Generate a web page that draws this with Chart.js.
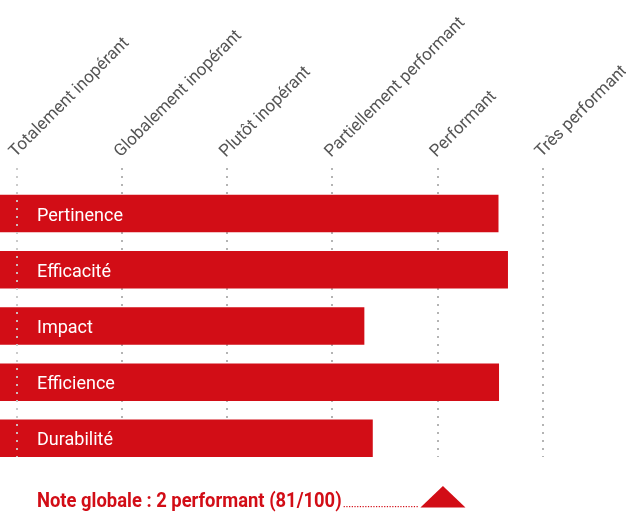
<!DOCTYPE html>
<html>
<head>
<meta charset="utf-8">
<script src="https://cdn.jsdelivr.net/npm/chart.js@4.4.0/dist/chart.umd.min.js"></script>
<style>
  html, body { margin: 0; padding: 0; background: #fff; }
  #wrap { width: 626px; height: 513px; }
</style>
</head>
<body>
<div id="wrap"><canvas id="chart"></canvas></div>
<script>
// grading levels, one every 20 points
const levels = ["Totalement inopérant", "Globalement inopérant", "Plutôt inopérant", "Partiellement performant", "Performant", "Très performant"];
const levelValues = [0, 20, 40, 60, 80, 100];
const criteria = ["Pertinence", "Efficacité", "Impact", "Efficience", "Durabilité"];
const scores = [91.5, 93.3, 66, 91.6, 67.6];
const overallScore = 81;
const overallLabel = "Note globale : 2 performant (81/100)";

const RED = "#d20d16";
const FONT = "Roboto, 'DejaVu Sans', sans-serif";
const X_MIN = -3.2, X_MAX = 115.8;

const overlay = {
  id: "overlay",
  afterDatasetsDraw(chart) {
    const ctx = chart.ctx;
    const xs = chart.scales.x;
    const area = chart.chartArea;
    ctx.save();

    // first level line stays visible over the bars
    const x0 = Math.round(xs.getPixelForValue(levelValues[0]));
    ctx.strokeStyle = "rgba(205,205,205,0.9)";
    ctx.lineWidth = 2;
    ctx.setLineDash([2, 6]);
    ctx.beginPath();
    ctx.moveTo(x0, area.top);
    ctx.lineTo(x0, area.bottom);
    ctx.stroke();
    ctx.setLineDash([]);

    // criterion names inside the bars
    ctx.fillStyle = "#fff";
    ctx.font = "18px " + FONT;
    ctx.textBaseline = "middle";
    chart.getDatasetMeta(0).data.forEach((bar, i) => {
      ctx.fillText(criteria[i], 37, bar.y + 2.5);
    });

    // overall score: label (narrowed), dotted leader, marker
    const base = 507;
    const squeeze = 0.92;
    ctx.fillStyle = RED;
    ctx.font = "bold 20px " + FONT;
    ctx.textBaseline = "alphabetic";
    const textEnd = 37 + ctx.measureText(overallLabel).width * squeeze;
    ctx.save();
    ctx.translate(37, base);
    ctx.scale(squeeze, 1);
    ctx.fillText(overallLabel, 0, 0);
    ctx.restore();
    const cx = xs.getPixelForValue(overallScore);
    for (let px = textEnd + 2; px < cx - 24; px += 2.7) {
      ctx.fillRect(px, base - 1, 1.2, 1.2);
    }
    ctx.beginPath();
    ctx.moveTo(cx, 486);
    ctx.lineTo(cx + 22.5, base + 0.5);
    ctx.lineTo(cx - 22.5, base + 0.5);
    ctx.closePath();
    ctx.fill();

    ctx.restore();
  }
};

new Chart(document.getElementById("chart"), {
  type: "bar",
  data: {
    datasets: [{
      data: scores.map((s, i) => ({ x: s, y: i })),
      backgroundColor: RED,
      base: X_MIN,
      barThickness: 37
    }]
  },
  options: {
    indexAxis: "y",
    responsive: true,
    maintainAspectRatio: false,
    animation: false,
    layout: { padding: { top: 0, right: 0, bottom: 56, left: 0 } },
    plugins: { legend: { display: false }, tooltip: { enabled: false } },
    scales: {
      x: {
        type: "linear",
        position: "top",
        min: X_MIN,
        max: X_MAX,
        afterBuildTicks: s => { s.ticks = levelValues.map(v => ({ value: v })); },
        afterFit: s => { s.height = 168; s.paddingLeft = 0; s.paddingRight = 0; },
        grid: { color: "#b4b4b4", lineWidth: 2, drawTicks: false },
        border: { display: false, dash: [2, 6] },
        ticks: {
          color: "#555555",
          font: { family: FONT, size: 17 },
          padding: 6,
          labelOffset: 10,
          minRotation: 45,
          maxRotation: 45,
          autoSkip: false,
          callback: (v, i) => levels[i]
        }
      },
      y: {
        type: "linear",
        reverse: true,
        offset: false,
        bounds: "data",
        min: -0.81,
        max: 4.33,
        grid: { offset: false },
        display: false
      }
    }
  },
  plugins: [overlay]
});
</script>
</body>
</html>
